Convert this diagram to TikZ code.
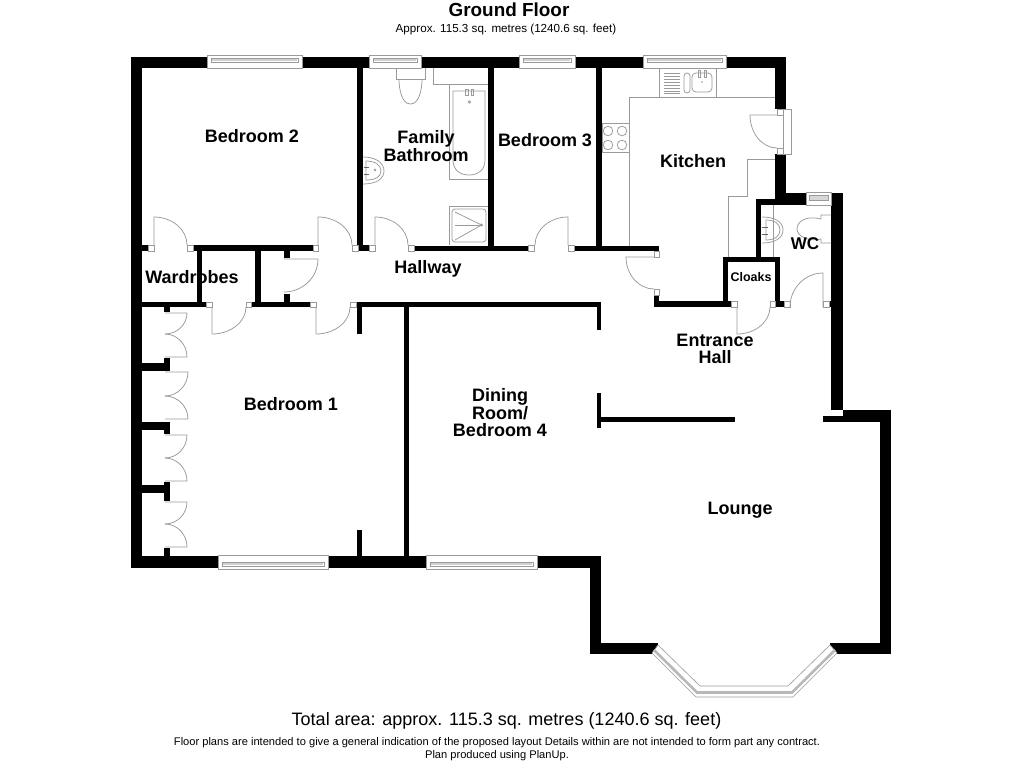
\documentclass[tikz,border=0pt]{standalone}
\usepackage{fontspec}
\setmainfont{Liberation Sans}
\usetikzlibrary{calc}
\definecolor{fixt}{HTML}{9A9A9A}
\tikzset{
  fix/.style={draw=fixt,line width=0.75pt,fill=none},
  room/.style={font=\fontsize{18}{18}\selectfont\bfseries,inner sep=0pt,align=center,text=black},
  winband/.style={draw=fixt,line width=0.6pt,fill=white},
  jambbox/.style={draw=fixt,line width=0.6pt,fill=white},
}
% wall rectangle
\newcommand\wallr[4]{\fill[black] (#1,#2) rectangle (#3,#4);}
% jamb square
\newcommand\jam[4]{\draw[jambbox] (#1,#2) rectangle (#3,#4);}
% door: hinge, leaf tip, arc end
\newcommand\swing[3]{\draw[fix] (#1) -- (#2) .. controls ($(#2)+0.55*(#3)-0.55*(#1)$) and ($(#3)+0.55*(#2)-0.55*(#1)$) .. (#3);}
% horizontal window: x1,x2,ytop,ybottom,strip top,strip bottom
\newcommand\hwin[6]{%
  \draw[winband] (#1,#3) rectangle (#2,#4);
  \draw[fix,fill=white] ({#1+4},#5) rectangle ({#2-4},#6);
  \fill[fixt!45] ({#1+5},{#5+1}) rectangle ({#2-5},{#6-1});
}
\begin{document}
\begin{tikzpicture}[x=1pt,y=-1pt]
\useasboundingbox (0,0) rectangle (1024,768);
\fill[white] (0,0) rectangle (1024,768);

% ---------- fixtures ----------
% toilet (bathroom)
\draw[fix] (396,68) -- (396,79) -- (425,79) -- (425,68);
\draw[fix] (399,79) .. controls (399,90) and (402,104) .. (410.5,104) .. controls (419,104) and (422,90) .. (422,79);
% bath
\draw[fix] (433,68) -- (433,84) -- (488,84);
\draw[fix] (488,84) -- (449,84) -- (449,179) -- (488,179);
\draw[fix] (453,91) -- (485,91) -- (485,160) .. controls (485,170) and (478,175) .. (469,175) .. controls (460,175) and (453,170) .. (453,160) -- cycle;
\draw[fix] (465.5,89) rectangle (468,95);
\draw[fix] (471,89) rectangle (473.5,95);
\draw[fix] (469.3,102) circle (1.2);
% bathroom basin
\draw[fix] (363,157) .. controls (376,157) and (384,163) .. (384,171) .. controls (384,179) and (376,184) .. (363,184);
\draw[fix] (366,161) .. controls (375,161) and (381,165) .. (381,171) .. controls (381,177) and (375,180) .. (366,180) -- cycle;
\fill[black!60] (364,166.5) rectangle (369,168);
\fill[black!60] (364,173.5) rectangle (369,175);
\draw[fix] (375,170) circle (0.9);
% shower
\draw[fix] (488,206) -- (449,206) -- (449,245);
\draw[fix,rounded corners=3pt] (452,209) rectangle (486,242);
\draw[fix] (455,212) -- (481.5,225) -- (455,240);
\draw[fix] (455,225) -- (481.5,225);
\draw[fix] (481.5,225) circle (1.1);
% kitchen units
\draw[fix] (629,246) -- (629,97) -- (775,97);
\draw[fix] (659,68) -- (659,97);
\draw[fix] (716,68) -- (716,97);
\foreach \yy in {73,76,79,82,85,88,91,93}{\draw[fix,line width=0.6pt] (664,\yy) -- (680,\yy);}
\draw[fix,rounded corners=3pt] (684,73) rectangle (690,93);
\draw[fix,rounded corners=4pt] (692,73) rectangle (712,92);
\draw[fix] (698.3,70) rectangle (700.5,77);
\draw[fix] (704.5,70) rectangle (706.7,77);
\fill[fixt] (702,82) circle (0.8);
% hob
\draw[fix] (602,123) rectangle (629,152);
\foreach \cx/\cy in {608/131,622/131,608/145,622/145}{\draw[fix] (\cx,\cy) circle (4.8);}
% lower kitchen counter
\draw[fix] (775,159) -- (747,159) -- (747,196) -- (728,196) -- (728,257);
% WC
\draw[fix] (773,205) -- (773,257);
\draw[fix] (762,217) .. controls (775,217) and (783,222) .. (783,230) .. controls (783,238) and (775,243) .. (762,243);
\draw[fix] (766,220) .. controls (775,220) and (780,224) .. (780,230) .. controls (780,236) and (775,240) .. (766,240) -- cycle;
\fill[black!60] (762,226.5) rectangle (768,228);
\fill[black!60] (762,233.5) rectangle (768,235);
\draw[fix] (832,215) -- (821,215) -- (821,219) .. controls (805,215) and (797,222) .. (797,229) .. controls (797,236) and (808,242) .. (821,239) -- (821,243) -- (832,243);
\draw[fix] (832,205) -- (832,300);

% ---------- walls ----------
\wallr{131}{57}{786}{68}   % top
\wallr{131}{57}{142}{568}  % left
\wallr{131}{556}{601}{568} % bottom
\wallr{590}{556}{601}{654}
\wallr{590}{643}{658}{654}
\wallr{775}{57}{786}{109}
\wallr{775}{154}{786}{205}
\wallr{775}{193}{806}{205}
\wallr{756}{199}{806}{205}
\wallr{756}{199}{761}{262}
\wallr{831}{193}{843}{410}
\wallr{829}{301}{843}{307}
\wallr{843}{410}{891}{422}
\wallr{823}{416}{843}{422}
\wallr{880}{410}{891}{654}
\wallr{830}{643}{891}{654}
% internal verticals
\wallr{357}{68}{363}{251}
\wallr{488}{68}{494}{251}
\wallr{596}{68}{602}{251}
% horizontal corridor top
\wallr{142}{245}{148}{251}
\wallr{193}{245}{313}{251}
\wallr{358}{245}{369}{251}
\wallr{414}{246}{528}{251}
\wallr{574}{246}{659}{251}
% wardrobes
\wallr{197}{251}{202}{302}
\wallr{255}{251}{261}{302}
\wallr{142}{302}{206}{307}
\wallr{251}{302}{310}{307}
\wallr{356}{302}{601}{307}
\wallr{284}{251}{290}{258}
\wallr{284}{294}{290}{302}
% bedroom1 / dining
\wallr{357}{307}{362}{334}
\wallr{357}{530}{362}{556}
\wallr{404}{307}{409}{556}
% dining right stubs
\wallr{597}{307}{601}{330}
\wallr{597}{393}{601}{428}
\wallr{597}{417}{735}{422}
% kitchen door wall / cloaks
\wallr{654}{295}{659}{307}
\wallr{654}{301}{731}{307}
\wallr{723}{257}{728}{307}
\wallr{723}{257}{780}{262}
\wallr{775}{257}{780}{307}
\wallr{775}{301}{784}{307}
% wardrobe partitions
\wallr{164}{307}{170}{312}
\wallr{142}{363}{170}{371}
\wallr{164}{358}{170}{371}
\wallr{142}{422}{170}{430}
\wallr{164}{422}{170}{434}
\wallr{142}{485}{170}{493}
\wallr{164}{482}{170}{501}
\wallr{164}{548}{170}{556}

% ---------- windows ----------
\hwin{207}{302}{55}{68}{58}{62}
\hwin{369}{421}{55}{68}{58}{62}
\hwin{519}{575}{55}{68}{58}{62}
\hwin{643}{726}{55}{68}{58}{62}
\hwin{218}{328}{555}{569}{562}{566}
\hwin{426}{537}{555}{569}{562}{566}
\draw[winband] (806,192) rectangle (831,205);
\draw[fix,fill=fixt!40] (809,195.5) rectangle (828,200);
% kitchen door frame
\draw[winband] (783,109) rectangle (791,154);

% ---------- bay window ----------
\draw[draw=fixt,line width=0.6pt,fill=white] (658,645) -- (700,686) -- (788,686) -- (830,645) -- (837,653) -- (793,697) -- (696,697) -- (652,653) -- cycle;
\draw[fixt!70,line width=2.6pt] (654,650) -- (697,692.5) -- (792,692.5) -- (835,650);

% ---------- jambs ----------
\jam{148}{245}{154}{251}
\jam{187}{245}{193}{251}
\jam{313}{245}{318}{251}
\jam{352}{245}{358}{251}
\jam{369}{245}{375}{251}
\jam{408}{245}{414}{251}
\jam{528}{245}{534}{251}
\jam{568}{245}{574}{251}
\jam{654}{251}{659}{257}
\jam{654}{289}{659}{295}
\jam{206}{302}{212}{307}
\jam{246}{302}{251}{307}
\jam{310}{302}{316}{307}
\jam{350}{302}{356}{307}
\jam{731}{301}{737}{307}
\jam{770}{301}{775}{307}
\jam{784}{301}{790}{307}
\jam{823}{301}{829}{307}
\jam{777}{109}{783}{115}
\jam{777}{148}{783}{154}

% ---------- doors ----------
\swing{154,245}{154,217}{187,245}
\swing{318,245}{318,217}{352,245}
\swing{375,245}{375,217}{408,245}
\swing{568,245}{568,217}{535,245}
\swing{654,257}{626,257}{654,289}
\swing{212,307}{212,334}{246,307}
\swing{316,307}{316,334}{350,307}
\swing{284,259}{318,259}{284,292}
\swing{737,307}{737,334}{770,307}
\swing{823,307}{823,273}{790,307}
\swing{777,115}{750,115}{777,148}
% wardrobe doors
\swing{165,313}{187,313}{165,334}
\swing{165,357}{187,357}{165,334}
\swing{165,372}{188,372}{165,396}
\swing{165,419}{188,419}{165,396}
\swing{165,435}{187,435}{165,458}
\swing{165,481}{187,481}{165,458}
\swing{165,502}{187,502}{165,524}
\swing{165,547}{187,547}{165,524}

% ---------- text ----------
\node[room,font=\fontsize{18.9}{19}\selectfont\bfseries] (title) at (509,10) {Ground Floor};
\node[inner sep=0pt,font=\fontsize{11.65}{12}\selectfont] (sub) at (506,29) {Approx. 115.3 sq. metres (1240.6 sq. feet)};
\node[room] (b2) at (252,136) {Bedroom 2};
\node[room] (fb) at (426,146) {Family\\[-0.5pt]Bathroom};
\node[room] (b3) at (545,140) {Bedroom 3};
\node[room] (ki) at (693,161) {Kitchen};
\node[room,font=\fontsize{17}{17}\selectfont\bfseries] (wc) at (805,244) {WC};
\node[room,font=\fontsize{12.5}{13}\selectfont\bfseries] (cl) at (751,277) {Cloaks};
\node[room] (ha) at (428,268.5) {Hallway};
\node[room] (wa) at (192,277) {Wardrobes};
\node[room] (eh) at (715,349) {Entrance\\[-0.5pt]Hall};
\node[room] (b1) at (291,404) {Bedroom 1};
\node[room] (dr) at (500,413) {Dining\\[-0.5pt]Room/\\[-0.5pt]Bedroom 4};
\node[room] (lo) at (740,510) {Lounge};
\node[inner sep=0pt,font=\fontsize{18}{18}\selectfont] (tot) at (506.5,720.5) {Total area: approx. 115.3 sq. metres (1240.6 sq. feet)};
\node[inner sep=0pt,font=\fontsize{11.1}{11}\selectfont] (fp) at (497,743) {Floor plans are intended to give a general indication of the proposed layout Details within are not intended to form part any contract.};
\node[inner sep=0pt,font=\fontsize{11.1}{11}\selectfont] (pp) at (497,756) {Plan produced using PlanUp.};
\end{tikzpicture}
\end{document}
